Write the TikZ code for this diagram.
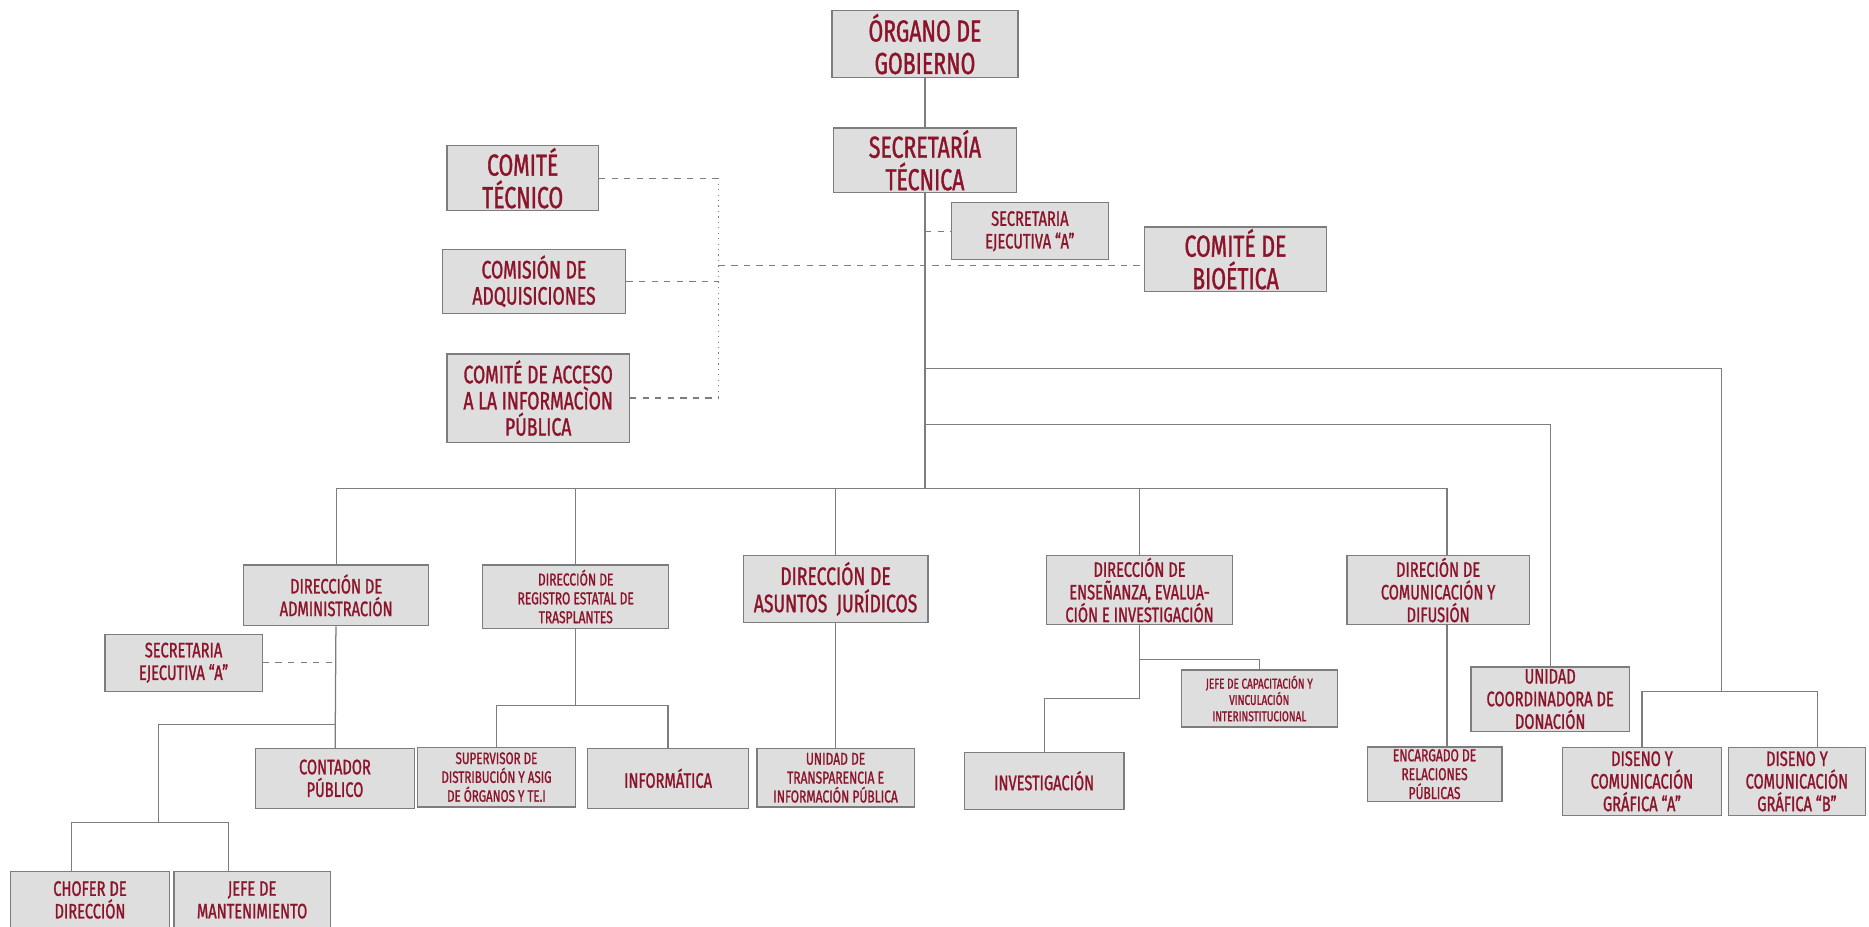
\documentclass[tikz,border=0pt]{standalone}
\usepackage{fontspec}
\setmainfont[FakeStretch=0.7,FakeBold=1.2]{Fira Sans}
\usepackage{xcolor}
\definecolor{orgred}{RGB}{140,20,42}
\definecolor{boxgray}{RGB}{222,222,222}
\definecolor{linegray}{RGB}{125,125,125}

\begin{document}
\begin{tikzpicture}[x=0.02cm,y=-0.02cm,
		box/.style={draw=linegray,fill=boxgray,text=orgred,align=center,inner sep=1pt,line width=0.6pt},
		link/.style={draw=linegray,line width=0.6pt},
		dashlink/.style={draw=linegray,line width=0.6pt,dashed},
		dotlink/.style={draw=linegray,line width=0.6pt,dotted},
		fbig/.style={font=\fontsize{14.5}{15.5}\selectfont},
		fjur/.style={font=\fontsize{12}{13}\selectfont},
		fmid/.style={font=\fontsize{12}{12.5}\selectfont},
		fsmall/.style={font=\fontsize{10}{10.8}\selectfont},
		fxs/.style={font=\fontsize{8.2}{9}\selectfont},
		ftiny/.style={font=\fontsize{6.8}{7.8}\selectfont}]
		\useasboundingbox[fill=white] (0,0) rectangle (1568,777);

		% cabeza
		\node[box,fbig,minimum width=3.12cm,minimum height=1.12cm] (org) at (776,37) {ÓRGANO DE\\GOBIERNO};
		\node[box,fbig,minimum width=3.06cm,minimum height=1.06cm] (st) at (776,134.5) {SECRETARÍA\\TÉCNICA};
		\node[box,fsmall,minimum width=2.64cm,minimum height=0.96cm] (sea) at (864,194) {SECRETARIA\\EJECUTIVA “A”};

		% comites
		\node[box,fbig,minimum width=2.54cm,minimum height=1.02cm] (ctec) at (438.5,149.5) {COMITÉ\\TÉCNICO};
		\node[box,fmid,minimum width=3.08cm,minimum height=1.08cm] (cadq) at (448,236) {COMISIÓN DE\\ADQUISICIONES};
		\node[box,fmid,minimum width=3.06cm,minimum height=1.48cm] (cacc) at (451.5,334) {COMITÉ DE ACCESO\\A LA INFORMACÌON\\PÚBLICA};
		\node[box,fbig,minimum width=3.06cm,minimum height=1.02cm] (cbio) at (1036.5,217.5) {COMITÉ DE\\BIOÉTICA};

		% direcciones
		\node[box,fsmall,minimum width=3.1cm,minimum height=1.02cm] (dadm) at (282,499.5) {DIRECCIÓN DE\\ADMINISTRACIÓN};
		\node[box,fxs,minimum width=3.12cm,minimum height=1.06cm] (dreg) at (483,500.5) {DIRECCIÓN DE\\REGISTRO ESTATAL DE\\TRASPLANTES};
		\node[box,fjur,minimum width=3.1cm,minimum height=1.12cm] (djur) at (701,494) {DIRECCIÓN DE\\ASUNTOS\ \ JURÍDICOS};
		\node[box,fsmall,minimum width=3.12cm,minimum height=1.16cm] (dens) at (956,495) {DIRECCIÓN DE\\ENSEÑANZA, EVALUA-\\CIÓN E INVESTIGACIÓN};
		\node[box,fsmall,minimum width=3.06cm,minimum height=1.16cm] (dcom) at (1206.5,495) {DIRECIÓN DE\\COMUNICACIÓN Y\\DIFUSIÓN};
		\node[box,fsmall,minimum width=2.66cm,minimum height=0.98cm] (ucd) at (1300.5,586.5) {UNIDAD\\COORDINADORA DE\\DONACIÓN};
		\node[box,fsmall,minimum width=2.66cm,minimum height=1.14cm] (dga) at (1377.5,655.5) {DISENO Y\\COMUNICACIÓN\\GRÁFICA “A”};
		\node[box,fsmall,minimum width=2.3cm,minimum height=1.14cm] (dgb) at (1507.5,655.5) {DISENO Y\\COMUNICACIÓN\\GRÁFICA “B”};

		% puestos
		\node[box,fsmall,minimum width=2.64cm,minimum height=0.96cm] (seb) at (154,556) {SECRETARIA\\EJECUTIVA “A”};
		\node[box,fsmall,minimum width=2.66cm,minimum height=1.0cm] (cont) at (281,653) {CONTADOR\\PÚBLICO};
		\node[box,fsmall,minimum width=2.66cm,minimum height=0.96cm] (chof) at (75.5,755) {CHOFER DE\\DIRECCIÓN};
		\node[box,fsmall,minimum width=2.62cm,minimum height=0.96cm] (jman) at (211.5,755) {JEFE DE\\MANTENIMIENTO};
		\node[box,fxs,font=\fontsize{7.9}{9}\selectfont,minimum width=2.66cm,minimum height=1.0cm] (sup) at (416.5,652) {SUPERVISOR DE\\DISTRIBUCIÓN Y ASIG\\DE ÓRGANOS Y TE.I};
		\node[box,fsmall,minimum width=2.7cm,minimum height=1.0cm] (inf) at (560.5,653) {INFORMÁTICA};
		\node[box,fxs,minimum width=2.64cm,minimum height=0.98cm] (utip) at (701,652.5) {UNIDAD DE\\TRANSPARENCIA E\\INFORMACIÓN PÚBLICA};
		\node[box,fsmall,minimum width=2.68cm,minimum height=0.96cm] (inv) at (876,655) {INVESTIGACIÓN};
		\node[box,ftiny,minimum width=2.62cm,minimum height=0.96cm] (jcap) at (1056.5,586) {JEFE DE CAPACITACIÓN Y\\VINCULACIÓN\\INTERINSTITUCIONAL};
		\node[box,fxs,minimum width=2.26cm,minimum height=0.9cm] (enc) at (1203.5,649.5) {ENCARGADO DE\\RELACIONES\\PÚBLICAS};

		% puntos de las lineas
		\coordinate (trunk) at (776,410);
		\coordinate (kdg) at (776,309);
		\coordinate (kucd) at (776,356);
		\coordinate (dgbus) at (1444,580);
		\coordinate (kdgb) at (1525,580);
		\coordinate (kv) at (603,223);
		\coordinate (kadm) at (282,608);
		\coordinate (kdrv) at (133,690);
		\coordinate (kchof) at (60,690);
		\coordinate (kjman) at (192,690);
		\coordinate (kreg) at (483,592);
		\coordinate (kens1) at (956,553);
		\coordinate (kens2) at (956,586);
		\coordinate (kcom) at (1214,410);

		% lineas
		\draw[link] (org) -- (st);
		\draw[link] (st) -- (trunk);
		\draw[link] (kdg) -| (dgbus);
		\draw[link] (dga) |- (dgbus) -- (kdgb) -- (kdgb |- dgb.north);
		\draw[link] (kucd) -| (ucd);
		\draw[link] (dadm) |- (trunk) -- (kcom) -- (kcom |- dcom.north);
		\draw[link] (trunk -| dreg) -- (dreg);
		\draw[link] (trunk -| djur) -- (djur);
		\draw[link] (trunk -| dens) -- (dens);
		\draw[link] (dadm) -- (cont);
		\draw[link] (kadm) -| (kdrv);
		\draw[link] (kchof |- chof.north) -- (kchof) -- (kjman) -- (kjman |- jman.north);
		\draw[link] (dreg) -- (kreg);
		\draw[link] (sup) |- (kreg) -| (inf);
		\draw[link] (djur) -- (utip);
		\draw[link] (dens) -- (kens2) -| (inv);
		\draw[link] (kens1) -| (jcap);
		\draw[link] (kcom |- dcom.south) -- (kcom |- enc.north);

		\draw[dashlink] (st.south |- sea.west) -- (sea.west);
		\draw[dashlink] (seb.east) -- (seb.east -| dadm.south);
		\draw[dashlink] (ctec.east) -- (ctec.east -| kv);
		\draw[dashlink] (cadq.east) -- (cadq.east -| kv);
		\draw[dashlink] (cacc.east) -- (cacc.east -| kv);
		\draw[dotlink] (ctec.east -| kv) -- (cacc.east -| kv);
		\draw[dashlink] (kv) -- (kv -| cbio.west);
	\end{tikzpicture}
\end{document}
